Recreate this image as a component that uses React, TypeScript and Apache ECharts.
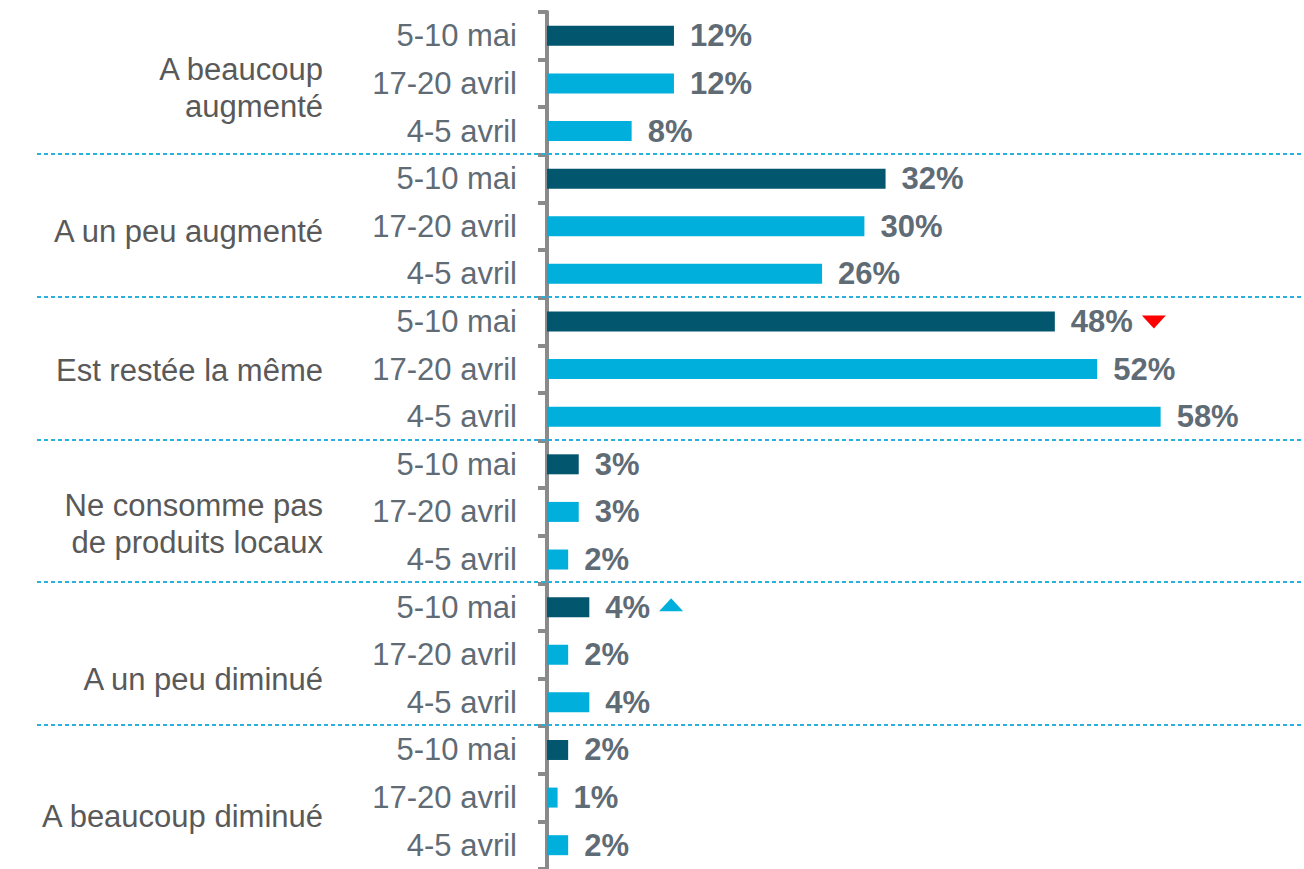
import React, { useEffect, useRef } from "react";
import * as echarts from "echarts";

// ---- data ----
const groupLabels = [
  "A beaucoup\naugmenté",
  "A un peu augmenté",
  "Est restée la même",
  "Ne consomme pas\nde produits locaux",
  "A un peu diminué",
  "A beaucoup diminué",
];
const periodLabels = ["5-10 mai", "17-20 avril", "4-5 avril"];
const valuesMai510 = [12, 32, 48, 3, 4, 2];
const valuesAvril1720 = [12, 30, 52, 3, 2, 1];
const valuesAvril45 = [8, 26, 58, 2, 4, 2];
const trendMarks = [
  { group: 2, period: 0, dir: "down" },
  { group: 4, period: 0, dir: "up" },
];

// ---- layout / style ----
const groupLabelShift = [5, 5, 1, 12, 25, 19];
const FONT = '"Liberation Sans", Arial, Helvetica, sans-serif';
const DARK = "#02566E";
const LIGHT = "#00AFDB";
const AXIS_GRAY = "#8a8a8a";
const LABEL_GRAY = "#5f6b75";
const GROUP_GRAY = "#595959";

let measureCtx: CanvasRenderingContext2D | null = null;
function textWidth(t: string, font: string) {
  if (!measureCtx) measureCtx = document.createElement("canvas").getContext("2d");
  if (!measureCtx) return t.length * 17;
  measureCtx.font = font;
  return measureCtx.measureText(t).width;
}

export default function App() {
  const ref = useRef<HTMLDivElement>(null);

  useEffect(() => {
    if (!ref.current) return;
    const chart = echarts.init(ref.current, null, { renderer: "svg" });

    const rows: number[] = [];
    groupLabels.forEach((_, g) => {
      rows.push(valuesMai510[g], valuesAvril1720[g], valuesAvril45[g]);
    });
    const rowIds = rows.map((_, i) => String(i));

    const separatorData = groupLabels.slice(1).map((_, i) => [0, (i + 1) * 3]);
    const groupTextData = groupLabels.map((_, g) => [0, g * 3 + 1, g]);
    const trendData = trendMarks.map((t) => {
      const row = t.group * 3 + t.period;
      return [rows[row], row];
    });

    const option: any = {
      animation: false,
      grid: { left: 547, top: 12, width: 740.6, height: 861, containLabel: false },
      xAxis: { type: "value", min: 0, max: 70, show: false },
      yAxis: {
        type: "category",
        inverse: true,
        data: rowIds,
        offset: 3,
        axisLine: { show: true, lineStyle: { color: AXIS_GRAY, width: 4 } },
        axisTick: { show: true, interval: 0, length: 9, lineStyle: { color: AXIS_GRAY, width: 4 } },
        axisLabel: {
          interval: 0,
          margin: 27,
          fontSize: 31,
          fontFamily: FONT,
          color: LABEL_GRAY,
          formatter: (_v: string, i: number) => periodLabels[i % 3],
        },
        splitLine: { show: false },
      },
      series: [
        {
          type: "bar",
          barWidth: 20,
          data: rows.map((v, i) => ({
            value: v,
            itemStyle: { color: i % 3 === 0 ? DARK : LIGHT },
          })),
          label: {
            show: true,
            position: "right",
            distance: 16,
            formatter: "{c}%",
            fontSize: 31,
            fontWeight: "bold",
            fontFamily: FONT,
            color: LABEL_GRAY,
          },
          z: 3,
        },
        {
          type: "custom",
          silent: true,
          z: 1,
          encode: { x: 0, y: 1 },
          data: separatorData,
          renderItem: (params: any, api: any) => {
            const c = api.coord([0, api.value(1)]);
            const h = api.size([0, 1])[1];
            const y = Math.round(c[1] - h / 2) - 1;
            return {
              type: "line",
              shape: { x1: c[0] - 510, y1: y, x2: c[0] + 760, y2: y },
              style: { stroke: "#29b0dd", lineWidth: 2, lineDash: [4, 3] },
            };
          },
        },
        {
          type: "custom",
          silent: true,
          encode: { x: 0, y: 1 },
          data: groupTextData,
          renderItem: (params: any, api: any) => {
            const g = api.value(2);
            const c = api.coord([0, api.value(1)]);
            return {
              type: "text",
              x: c[0] - 224,
              y: c[1] + groupLabelShift[g],
              style: {
                text: groupLabels[g],
                align: "right",
                verticalAlign: "middle",
                fontSize: 31,
                fontFamily: FONT,
                lineHeight: 37,
                fill: GROUP_GRAY,
              },
            };
          },
        },
        {
          type: "custom",
          silent: true,
          encode: { x: 0, y: 1 },
          data: trendData,
          renderItem: (params: any, api: any) => {
            const v = api.value(0);
            const c = api.coord([v, api.value(1)]);
            const tw = textWidth(v + "%", `bold 31px ${FONT}`);
            const x0 = c[0] + 16 + tw + 9;
            const dir = trendMarks[params.dataIndex].dir;
            const pts =
              dir === "down"
                ? [[x0, c[1] - 6], [x0 + 24, c[1] - 6], [x0 + 12, c[1] + 7]]
                : [[x0, c[1] + 4], [x0 + 24, c[1] + 4], [x0 + 12, c[1] - 9]];
            return {
              type: "polygon",
              shape: { points: pts },
              style: { fill: dir === "down" ? "#ff0000" : "#00AFDB" },
            };
          },
        },
      ],
    };

    chart.setOption(option);
    return () => chart.dispose();
  }, []);

  return (
    <div
      ref={ref}
      style={{ position: "fixed", left: 0, top: 0, width: 1304, height: 869, background: "#fff" }}
    />
  );
}
